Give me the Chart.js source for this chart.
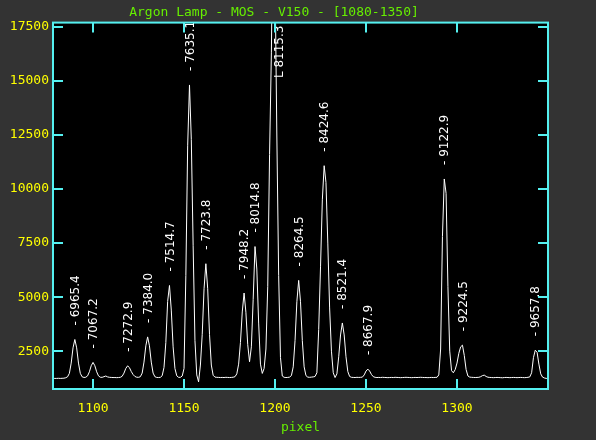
<!DOCTYPE html>
<html>
<head>
<meta charset="utf-8">
<script src="https://cdn.jsdelivr.net/npm/chart.js@4.4.0/dist/chart.umd.min.js"></script>
<style>
  html, body { margin: 0; padding: 0; background: #333333; }
</style>
</head>
<body>
<canvas id="chart" width="596" height="440"></canvas>
<script>
// spectrum: counts per detector pixel, starting at firstPixel
const firstPixel = 1078;
const counts = [
  // 1078
  1240, 1240, 1240, 1245, 1240, 1245, 1250, 1270, 1315, 1474,
  // 1088
  1949, 2653, 3040, 2653, 1949, 1474, 1315, 1285, 1294, 1357,
  // 1098
  1546, 1826, 1980, 1826, 1546, 1357, 1294, 1290, 1320, 1350,
  // 1108
  1310, 1290, 1285, 1280, 1280, 1275, 1280, 1291, 1339, 1485,
  // 1118
  1701, 1820, 1740, 1560, 1420, 1330, 1295, 1290, 1318, 1487,
  // 1128
  1994, 2746, 3160, 2746, 1994, 1487, 1318, 1285, 1280, 1290,
  // 1138
  1365, 1749, 2899, 4800, 5540, 4400, 2700, 1700, 1360, 1290,
  // 1148
  1290, 1350, 1700, 6000, 12000, 14815, 12300, 7400, 3000, 1400,
  // 1158
  1080, 1859, 3281, 5387, 6545, 5387, 3281, 1859, 1385, 1300,
  // 1168
  1290, 1285, 1280, 1285, 1280, 1290, 1285, 1280, 1285, 1295,
  // 1178
  1320, 1450, 1900, 2900, 4314, 5190, 4300, 2800, 2010, 2700,
  // 1188
  4900, 7340, 6300, 3800, 1900, 1470, 1700, 2600, 5500, 11600,
  // 1198
  16300, 24000, 20000, 12500, 6000, 2200, 1350, 1290, 1280, 1285,
  // 1208
  1300, 1370, 1774, 2988, 4786, 5775, 4786, 2988, 1774, 1370,
  // 1218
  1300, 1290, 1300, 1310, 1330, 1500, 3500, 6400, 9500, 11080,
  // 1228
  10300, 7500, 4500, 2500, 1500, 1280, 1450, 2240, 3250, 3805,
  // 1238
  3250, 2240, 1558, 1330, 1290, 1285, 1280, 1290, 1285, 1290,
  // 1248
  1300, 1400, 1580, 1670, 1580, 1420, 1320, 1290, 1280, 1285,
  // 1258
  1280, 1290, 1285, 1280, 1275, 1280, 1285, 1280, 1290, 1285,
  // 1268
  1280, 1275, 1280, 1285, 1290, 1285, 1280, 1275, 1280, 1285,
  // 1278
  1280, 1285, 1290, 1285, 1280, 1280, 1275, 1280, 1285, 1280,
  // 1288
  1285, 1290, 1400, 2600, 7800, 10466, 9800, 5500, 2500, 1600,
  // 1298
  1500, 1650, 1950, 2400, 2700, 2777, 2300, 1650, 1350, 1300,
  // 1308
  1290, 1285, 1280, 1285, 1290, 1320, 1370, 1390, 1330, 1295,
  // 1318
  1285, 1280, 1275, 1280, 1285, 1280, 1275, 1270, 1280, 1285,
  // 1328
  1280, 1275, 1280, 1285, 1280, 1275, 1280, 1285, 1280, 1275,
  // 1338
  1280, 1290, 1310, 1500, 2200, 2546, 2450, 1900, 1450, 1300,
  // 1348
  1260, 1240, 1240
];

// identified arc lines (wavelength label, pixel of the peak)
const lineWaves = ["6965.4", "7067.2", "7272.9", "7384.0", "7514.7", "7635.1",
  "7723.8", "7948.2", "8014.8", "8115.3", "8264.5", "8424.6", "8521.4",
  "8667.9", "9122.9", "9224.5", "9657.8"];
const linePixels = [1090, 1100, 1119, 1130, 1142, 1153, 1162, 1183, 1189,
  1199, 1213, 1227, 1237, 1251, 1293, 1303, 1343];

const xTicks = [1100, 1150, 1200, 1250, 1300];
const yTicks = [2500, 5000, 7500, 10000, 12500, 15000, 17500];

const titleText = "Argon Lamp - MOS - V150 - [1080-1350]";
const xTitle = "pixel";

const frameColor = "#55f0f0";
const mono = '"DejaVu Sans Mono", monospace';

const framePlugin = {
  id: "frame",
  beforeDraw(chart) {
    const { ctx, chartArea: a } = chart;
    ctx.save();
    ctx.fillStyle = "#333333";
    ctx.fillRect(0, 0, chart.width, chart.height);
    ctx.fillStyle = "#000000";
    ctx.fillRect(a.left, a.top, a.right - a.left, a.bottom - a.top);
    ctx.restore();
  },
  afterDatasetsDraw(chart) {
    const { ctx, chartArea: a } = chart;
    const xs = chart.scales.x;
    const ys = chart.scales.y;
    ctx.save();
    ctx.fillStyle = "#ffffff";
    ctx.font = '12px "DejaVu Sans"';
    ctx.textBaseline = "middle";
    lineWaves.forEach((w, i) => {
      const p = linePixels[i];
      const peak = counts[p - firstPixel];
      const x = xs.getPixelForValue(p);
      ctx.save();
      if (peak > ys.max) {
        // saturated line: label hangs from the top of the frame
        ctx.translate(x + 7, a.top + 3);
        ctx.rotate(-Math.PI / 2);
        ctx.textAlign = "right";
        ctx.fillText("L " + w, 0, 0);
      } else {
        ctx.translate(x + 1, ys.getPixelForValue(peak) - 14);
        ctx.rotate(-Math.PI / 2);
        ctx.textAlign = "left";
        ctx.fillText("- " + w, 0, 0);
      }
      ctx.restore();
    });
    ctx.restore();
  },
  afterDraw(chart) {
    const { ctx, chartArea: a } = chart;
    const xs = chart.scales.x;
    const ys = chart.scales.y;
    const len = 10;
    ctx.save();
    ctx.strokeStyle = frameColor;
    ctx.lineWidth = 2;
    ctx.strokeRect(a.left, a.top, a.right - a.left, a.bottom - a.top);
    ctx.beginPath();
    xTicks.forEach((v) => {
      const x = Math.round(xs.getPixelForValue(v));
      ctx.moveTo(x, a.bottom);
      ctx.lineTo(x, a.bottom - len);
      ctx.moveTo(x, a.top);
      ctx.lineTo(x, a.top + len);
    });
    yTicks.forEach((v) => {
      const y = Math.round(ys.getPixelForValue(v));
      ctx.moveTo(a.left, y);
      ctx.lineTo(a.left + len, y);
      ctx.moveTo(a.right, y);
      ctx.lineTo(a.right - len, y);
    });
    ctx.stroke();
    ctx.restore();
  }
};

const points = counts.map((c, i) => ({ x: firstPixel + i, y: c }));

new Chart(document.getElementById("chart").getContext("2d"), {
  type: "line",
  data: {
    datasets: [{
      data: points,
      borderColor: "#ffffff",
      borderWidth: 1,
      pointRadius: 0,
      tension: 0,
      fill: false
    }]
  },
  options: {
    responsive: false,
    animation: false,
    devicePixelRatio: 1,
    layout: { padding: { left: 0, right: 48, top: 0, bottom: 0 } },
    plugins: {
      legend: { display: false },
      tooltip: { enabled: false },
      title: {
        display: true,
        text: titleText,
        color: "#66ee00",
        font: { family: mono, size: 13, weight: "normal" },
        padding: { top: 5, bottom: 2 }
      }
    },
    scales: {
      x: {
        type: "linear",
        min: 1078,
        max: 1350,
        grid: { display: false, drawTicks: false },
        border: { display: false },
        afterBuildTicks: (s) => { s.ticks = xTicks.map((v) => ({ value: v })); },
        afterFit: (s) => { s.height = 51; },
        ticks: {
          color: "#ffff00",
          padding: 12,
          maxRotation: 0,
          font: { family: mono, size: 13 },
          callback: (v) => String(v)
        },
        title: {
          display: true,
          text: xTitle,
          color: "#66ee00",
          font: { family: mono, size: 13 },
          padding: { top: 0, bottom: 5 }
        }
      },
      y: {
        min: 750,
        max: 17700,
        grid: { display: false, drawTicks: false },
        border: { display: false },
        afterBuildTicks: (s) => { s.ticks = yTicks.map((v) => ({ value: v })); },
        afterFit: (s) => { s.width = 53; },
        ticks: {
          color: "#ffff00",
          padding: 4,
          font: { family: mono, size: 13 },
          callback: (v) => String(v)
        }
      }
    }
  },
  plugins: [framePlugin]
});
</script>
</body>
</html>
